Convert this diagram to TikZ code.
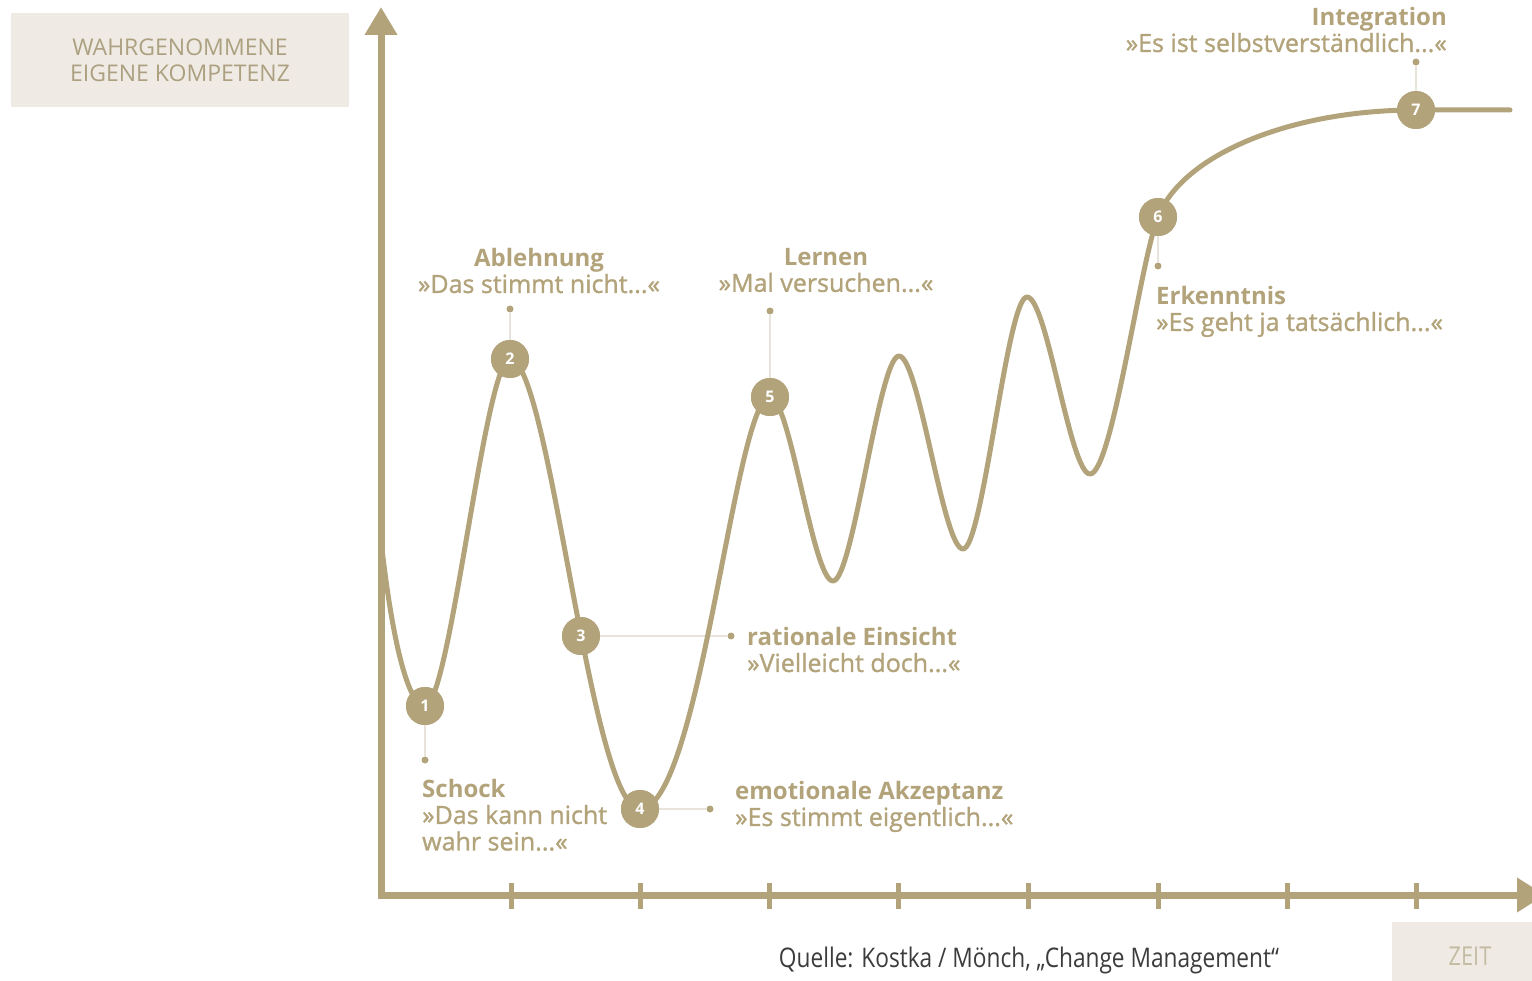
\documentclass[tikz,border=0pt]{standalone}
\usepackage{fontspec}
\setmainfont{Open Sans}
\newfontfamily\condfont[FakeStretch=0.84]{Open Sans}
\newfontfamily\quotefont[FakeBold=1.2]{Open Sans}
\newcommand\phasehead[1]{{\rmfamily\bfseries\fontsize{24}{26.5}\selectfont #1}}
\usetikzlibrary{arrows.meta}
\definecolor{gold}{RGB}{178,163,123}
\definecolor{paper}{RGB}{239,235,228}
\definecolor{leadercol}{RGB}{233,228,219}
\definecolor{axistext}{RGB}{172,160,128}
\definecolor{zeittext}{RGB}{196,187,163}
\definecolor{sourcetext}{RGB}{60,60,60}
\begin{document}
\begin{tikzpicture}[x=1pt,y=-1pt,
  axis/.style={draw=gold,line width=7pt},
  tickmark/.style={draw=gold,line width=5pt},
  curve/.style={draw=gold,line width=5pt,line cap=round,line join=round},
  stage/.style={circle,fill=gold,minimum size=38pt,inner sep=0pt,text=white,
    font=\fontsize{16}{16}\selectfont\bfseries},
  pin/.style={circle,fill=gold,minimum size=7pt,inner sep=0pt},
  leader/.style={draw=leadercol,line width=2.5pt},
  phase/.style={text=gold,inner sep=0pt,font=\quotefont\fontsize{25}{26.5}\selectfont},
  axisbox/.style={fill=paper,inner sep=0pt}]
\useasboundingbox (0,0) rectangle (1532,981);

% axis captions
\node[axisbox,minimum width=338pt,minimum height=94pt,align=center,
  text=axistext,font=\fontsize{23}{26}\selectfont] (ylabel) at (180,60)
  {WAHRGENOMMENE\\EIGENE KOMPETENZ};
\node[axisbox,minimum width=156pt,minimum height=68pt,text=zeittext,
  font=\condfont\fontsize{26}{26}\selectfont] (xlabel) at (1470,956) {ZEIT};
\node[text=sourcetext,font=\condfont\fontsize{27}{27}\selectfont] (source)
  at (1029,960) {Quelle: Kostka / Mönch, „Change Management“};

% axes with arrow heads
\coordinate (ytip) at (381,7);
\coordinate (origin) at (381,895);
\coordinate (xtip) at (1545,895);
\draw[axis,{Triangle[length=28pt,width=31pt]}-{Triangle[length=28pt,width=33pt]}]
  (ytip) -- (origin) -- (xtip);
\foreach \x in {511,640,769,898,1028,1158,1287,1416}
  \draw[tickmark] (\x,883) -- (\x,909);

% stage positions on the curve
\coordinate (start) at (381,540);
\coordinate (p1) at (425,706);
\coordinate (p2) at (510,359);
\coordinate (p4) at (640,809);
\coordinate (p5) at (770,397);
\coordinate (v1) at (833,581);
\coordinate (t1) at (899,356);
\coordinate (v2) at (963,549);
\coordinate (t2) at (1027,297);
\coordinate (v3) at (1090,474);
\coordinate (p6) at (1158,217);
\coordinate (p7) at (1416,110);
\coordinate (finish) at (1510,110);

% pin dots for the phase captions
\node[pin] (d1) at (425,760) {};
\node[pin] (d2) at (510,309) {};
\node[pin] (d3) at (731,636) {};
\node[pin] (d4) at (710,809) {};
\node[pin] (d5) at (770,311) {};
\node[pin] (d6) at (1158,266) {};
\node[pin] (d7) at (1416,62) {};

% stage markers (placed first, drawn again on top of the curve)
\path (p1) node[stage] (s1) {}
      (p2) node[stage] (s2) {}
      (581,636) node[stage] (s3) {}
      (p4) node[stage] (s4) {}
      (p5) node[stage] (s5) {}
      (p6) node[stage] (s6) {}
      (p7) node[stage] (s7) {};

% leader lines
\draw[leader] (s1) -- (d1);
\draw[leader] (s2) -- (d2);
\draw[leader] (s3) -- (d3);
\draw[leader] (s4) -- (d4);
\draw[leader] (s5) -- (d5);
\draw[leader] (s6) -- (d6);
\draw[leader] (s7) -- (d7);

% change curve
\draw[curve] (start)
  .. controls (392,640) and (408,706) .. (p1)
  .. controls (450,706) and (485,359) .. (p2)
  .. controls (550,359) and (590,809) .. (p4)
  .. controls (700,809) and (735,397) .. (p5)
  .. controls (790,397) and (813,581) .. (v1)
  .. controls (853,581) and (879,356) .. (t1)
  .. controls (919,356) and (943,549) .. (v2)
  .. controls (983,549) and (1007,297) .. (t2)
  .. controls (1047,297) and (1070,474) .. (v3)
  .. controls (1112,474) and (1140,262) .. (p6)
  .. controls (1182,155) and (1290,110) .. (p7)
  -- (finish);

% numbered stage markers
\node[stage] at (s1) {1};
\node[stage] at (s2) {2};
\node[stage] at (s3) {3};
\node[stage] at (s4) {4};
\node[stage] at (s5) {5};
\node[stage] at (s6) {6};
\node[stage] at (s7) {7};

% phase captions
\node[phase,anchor=north west,align=left] (schock) at (422,779)
  {\phasehead{Schock}\\»Das kann nicht\\wahr sein...«};
\node[phase,anchor=north,align=center] (ablehnung) at (539,248)
  {\phasehead{Ablehnung}\\»Das stimmt nicht...«};
\node[phase,anchor=north west,align=left] (einsicht) at (747,627)
  {\phasehead{rationale Einsicht}\\»Vielleicht doch...«};
\node[phase,anchor=north west,align=left] (akzeptanz) at (735,781)
  {\phasehead{emotionale Akzeptanz}\\»Es stimmt eigentlich...«};
\node[phase,anchor=north,align=center] (lernen) at (826,248)
  {\phasehead{Lernen}\\»Mal versuchen...«};
\node[phase,anchor=north west,align=left] (erkenntnis) at (1156,286)
  {\phasehead{Erkenntnis}\\»Es geht ja tatsächlich...«};
\node[phase,anchor=north east,align=right] (integration) at (1447,7)
  {\phasehead{Integration}\\»Es ist selbstverständlich...«};
\end{tikzpicture}
\end{document}
